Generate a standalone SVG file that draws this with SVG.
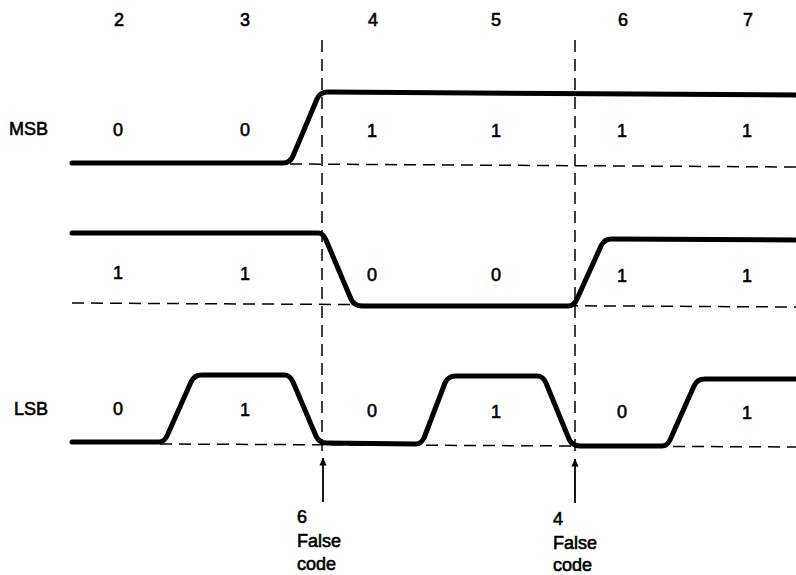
<svg xmlns="http://www.w3.org/2000/svg" width="796" height="575" viewBox="0 0 796 575">
<defs>
<style>
.t{font-family:"Liberation Sans",Arial,sans-serif;font-size:18px;fill:#000;stroke:#000;stroke-width:0.6}
.c{text-anchor:middle}
.sig{fill:none;stroke:#000;stroke-width:5;stroke-linejoin:round;stroke-linecap:round}
.dash{fill:none;stroke:#000;stroke-width:1.5;stroke-dasharray:12 7}
.arr{fill:none;stroke:#000;stroke-width:1.8}
</style>
<marker id="ah" viewBox="0 0 10 12" refX="9.5" refY="6" markerWidth="8" markerHeight="12" markerUnits="userSpaceOnUse" orient="auto">
<path d="M0,1.5 L10,6 L0,10.5 Z" fill="#000"/>
</marker>
</defs>
<rect width="796" height="575" fill="#fff"/>

<g id="numbers" class="t c">
<text x="119" y="26">2</text>
<text x="245" y="26">3</text>
<text x="373" y="26">4</text>
<text x="496" y="26">5</text>
<text x="623" y="26">6</text>
<text x="748" y="26">7</text>
</g>

<g id="guides">
<line class="dash" x1="322" y1="40" x2="322" y2="452"/>
<line class="dash" x1="575" y1="40" x2="575" y2="452"/>
<line class="dash" x1="290" y1="164" x2="796" y2="167"/>
<line class="dash" x1="72" y1="303" x2="796" y2="307"/>
<line class="dash" x1="160" y1="444" x2="796" y2="447"/>
</g>

<g id="msb">
<text class="t" x="48" y="135" text-anchor="end">MSB</text>
<path class="sig" d="M72,163 L283,163 Q290,163 293,156 L317,99 Q320,92 328,92 L796,95"/>
<g class="t c">
<text x="118" y="136">0</text>
<text x="245" y="136">0</text>
<text x="372" y="137">1</text>
<text x="496" y="137">1</text>
<text x="622" y="137">1</text>
<text x="747" y="137">1</text>
</g>
</g>

<g id="mid">
<path class="sig" d="M72,233 L318,233 Q323,233 326,240 L351,299 Q354,306 362,306 L568,306 Q574,306 577,299 L601,246 Q604,239 612,239 L796,240"/>
<g class="t c">
<text x="118" y="279">1</text>
<text x="245" y="280">1</text>
<text x="372" y="281">0</text>
<text x="496" y="281">0</text>
<text x="622" y="282">1</text>
<text x="747" y="282">1</text>
</g>
</g>

<g id="lsb">
<text class="t" x="48" y="415" text-anchor="end">LSB</text>
<path class="sig" d="M72,442 L159,442 Q164,442 167,436 L191,382 Q194,375 202,375 L284,375 Q290,375 293,382 L316,436 Q319,443 327,443 L416,444 Q421,444 424,438 L445,383 Q448,376 456,376 L537,376 Q543,376 546,383 L569,439 Q572,446 580,446 L662,446 Q667,446 670,440 L694,386 Q697,379 705,379 L796,379"/>
<g class="t c">
<text x="118" y="415">0</text>
<text x="245" y="416">1</text>
<text x="372" y="417">0</text>
<text x="496" y="418">1</text>
<text x="622" y="418">0</text>
<text x="747" y="419">1</text>
</g>
</g>

<g id="connectors">
<line class="arr" x1="323" y1="502" x2="323" y2="458" marker-end="url(#ah)"/>
<line class="arr" x1="575" y1="503" x2="575" y2="459" marker-end="url(#ah)"/>
</g>

<g id="note6" class="t">
<text x="297" y="523">6</text>
<text x="297" y="547">False</text>
<text x="297" y="570">code</text>
</g>
<g id="note4" class="t">
<text x="553" y="525">4</text>
<text x="553" y="549">False</text>
<text x="553" y="571">code</text>
</g>
</svg>
